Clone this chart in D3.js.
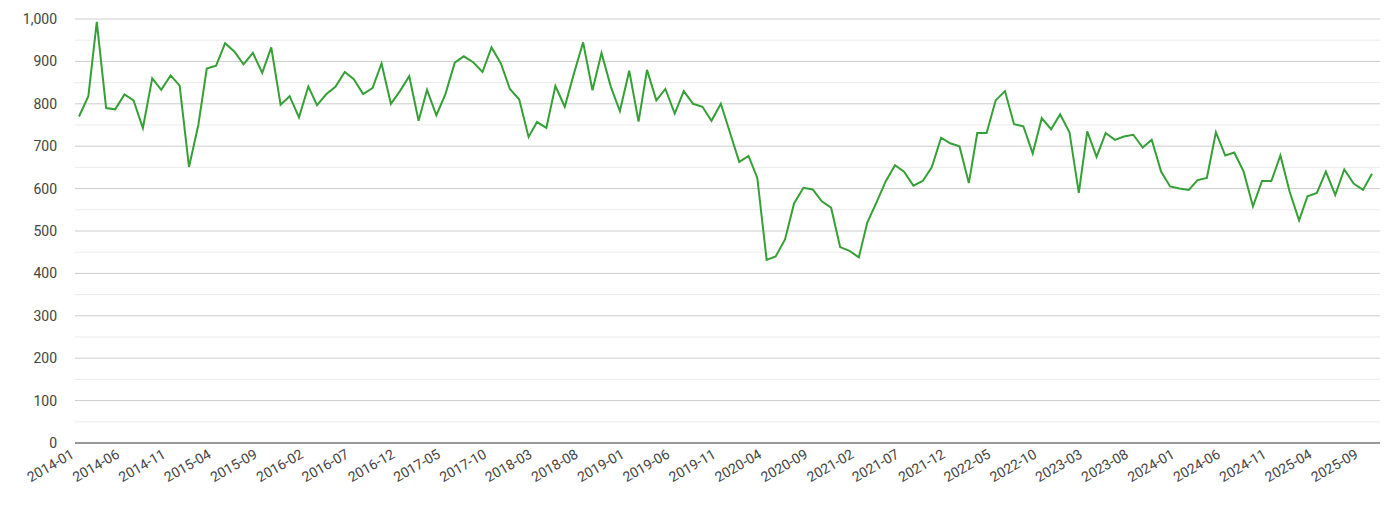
<!DOCTYPE html><html><head><meta charset="utf-8"><script src="https://cdn.jsdelivr.net/npm/d3@7"></script>
<style>body{margin:0;background:#fff}text{font-family:Roboto,"Noto Sans",sans-serif}</style></head><body><svg width="1390" height="510"></svg>
<script>
const startMonth = "2014-01";
const values = [770,818,993,790,787,822,808,743,860,833,
867,843,651,750,883,890,943,923,893,920,
873,933,798,818,768,841,797,823,840,875,
858,823,837,895,800,830,865,760,833,773,
823,897,912,898,875,933,895,835,810,722,
757,743,842,793,870,945,832,920,840,783,
878,758,880,808,835,777,830,800,793,760,
800,733,663,677,625,432,440,480,565,602,
598,570,555,462,453,438,520,568,617,655,
640,607,618,650,720,707,700,613,731,731,
808,830,752,747,683,766,740,775,733,590,
735,675,731,715,723,727,697,715,640,605,
600,597,620,625,733,678,685,640,558,618,
618,678,592,525,582,590,640,585,645,612,
597,635];
const yTicks = [0,100,200,300,400,500,600,700,800,900,1000];
const parse = d3.timeParse("%Y-%m");
const t0 = parse(startMonth);
const data = values.map((v,i)=>({d:d3.timeMonth.offset(t0,i),v}));
const svg = d3.select("svg");
const L=75,R=1380,T=19,B=443;
const x = d3.scaleTime().domain([t0, data[data.length-1].d]).range([L+4,R-8]);
const y = d3.scaleLinear().domain([0,1000]).range([B,T]);
const g = svg.append("g");
d3.range(50,1001,100).forEach(v=>g.append("line").attr("x1",L).attr("x2",R).attr("y1",y(v)).attr("y2",y(v)).attr("stroke","#ebebeb"));
yTicks.forEach(v=>{g.append("line").attr("x1",L).attr("x2",R).attr("y1",y(v)).attr("y2",y(v)).attr("stroke",v===0?"#333":"#cccccc");
 g.append("text").attr("x",57).attr("y",y(v)+5).attr("text-anchor","end").attr("font-size",14).attr("fill","#444").text(d3.format(",")(v));});
const xt = data.filter((d,i)=>i%5===0);
xt.forEach(d=>{g.append("text").attr("transform",`translate(${x(d.d)-4},${B+14}) rotate(-30)`).attr("text-anchor","end").attr("font-size",14).attr("fill","#444").text(d3.timeFormat("%Y-%m")(d.d));});
svg.append("path").datum(data).attr("fill","none").attr("stroke","#35a035").attr("stroke-width",2)
 .attr("d",d3.line().x(d=>x(d.d)).y(d=>y(d.v)));
</script></body></html>
